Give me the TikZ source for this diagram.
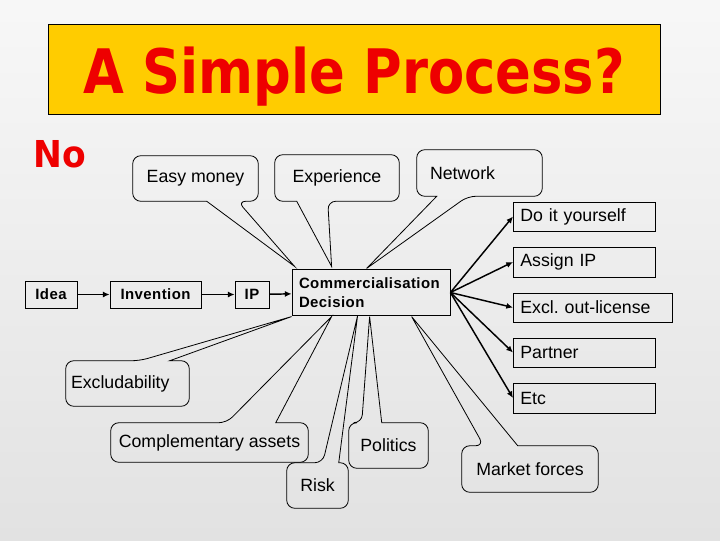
\documentclass[tikz,border=0pt]{standalone}
\usepackage{fontspec}
\setmainfont{Liberation Sans}
\newfontfamily\headfont{DejaVu Sans}
\newfontfamily\boxfont[LetterSpace=3]{Liberation Sans}
\usetikzlibrary{arrows.meta,calc}
\definecolor{slideyellow}{RGB}{255,204,0}
\definecolor{slidered}{RGB}{238,0,0}
\definecolor{slidegray}{RGB}{226,226,226}
\tikzset{
  stepbox/.style={
    draw=black,
    line width=0.6pt,
    minimum height=20.25pt,
    inner sep=0pt,
    font=\boxfont\bfseries\fontsize{11.2}{14.25}\selectfont
  },
  option/.style={
    draw=black,
    line width=0.6pt,
    anchor=west,
    inner xsep=5.25pt,
    inner ysep=0pt,
    align=left,
    font=\fontsize{13.3}{16}\selectfont
  },
  bubble/.style={
    inner sep=0pt,
    font=\fontsize{13.3}{16}\selectfont
  },
  outline/.style={draw=black, line width=0.6pt, rounded corners=6pt},
  arr/.style={-{Latex[length=5pt,width=4.5pt]}, line width=1.1pt}
}

\begin{document}
\begin{tikzpicture}[x=0.75pt, y=-0.75pt]
  \useasboundingbox (0,0) rectangle (720,540);
  \shade[top color=white!97!black, bottom color=slidegray] (0,0) rectangle (720,540);

  % heading
  \node[draw=black, line width=0.6pt, fill=slideyellow, minimum width=459pt, minimum height=67.5pt] (titlebox) at (354,69) {};
  \node[anchor=base, text=slidered, font=\headfont\bfseries\fontsize{46}{46}\selectfont] (title) at (354,93) {\scalebox{0.86}[1]{A Simple Process?}};
  \node[anchor=base west, inner sep=0pt, text=slidered, font=\headfont\bfseries\fontsize{27.8}{28}\selectfont] (no) at (33,167) {\scalebox{0.93}[1]{No}};

  % main chain
  \node[stepbox, minimum width=39pt] (idea) at (51,294.5) {Idea};
  \node[stepbox, minimum width=68.25pt] (inv) at (155.5,294.5) {Invention};
  \node[stepbox, minimum width=25.5pt] (ip) at (252,294.5) {IP};
  \node[stepbox, minimum width=118.5pt, minimum height=34pt, text width=108pt, align=left] (cd) at (371,292.5) {Commercialisation\\Decision};
  \draw[arr] (idea) -- (inv);
  \draw[arr] (inv) -- (ip);
  \draw[arr] (ip) -- (cd);

  % options
  \node[option, text width=96pt, minimum height=21.75pt] (diy) at (513,216.5) {Do it yourself};
  \node[option, text width=96pt, minimum height=22.5pt] (assign) at (513,262) {Assign IP};
  \node[option, text width=108.75pt, minimum height=21.75pt] (excl) at (513,307.5) {Excl.\ out-license};
  \node[option, text width=96pt, minimum height=21.75pt] (partner) at (513,352.5) {Partner};
  \node[option, text width=96pt, minimum height=22.5pt] (etc) at (513,398) {Etc};
  \foreach \o in {diy,assign,excl,partner,etc}
    \draw[arr] (cd.east) -- (\o.west);

  % callouts above
  \node[bubble, minimum width=93.75pt, minimum height=33.75pt] (em) at (195.5,178.5) {Easy money};
  \draw[outline] (em.north) -- (em.north east) -- (em.south east) -- ($(em.south west)+(105,0)$) [sharp corners]
    -- ($(cd.north west)+(3,-3)$) -- ($(em.south west)+(74,0)$) [rounded corners=6pt] -- (em.south west) -- (em.north west) -- (em.north);
  \node[bubble, minimum width=93pt, minimum height=34.5pt] (ex) at (337,178) {Experience};
  \draw[outline] (ex.north) -- (ex.north east) -- (ex.south east) -- ($(ex.south west)+(53,0)$) [sharp corners]
    -- ($(cd.north west)+(40,-3)$) -- ($(ex.south west)+(22,0)$) [rounded corners=6pt] -- (ex.south west) -- (ex.north west) -- (ex.north);
  \node[bubble, text width=74.25pt, inner xsep=9.75pt, align=left, minimum height=34.5pt] (nw) at (479.5,173) {Network};
  \draw[outline] (nw.north) -- (nw.north east) -- (nw.south east) -- ($(nw.south west)+(51,0)$) [sharp corners]
    -- ($(cd.north west)+(75,-1)$) -- ($(nw.south west)+(20,0)$) [rounded corners=6pt] -- (nw.south west) -- (nw.north west) -- (nw.north);

  % callouts below
  \node[bubble, text width=84.75pt, inner xsep=3.75pt, align=left, minimum height=33.75pt] (xb) at (127.5,383.5) {Excludability};
  \draw[outline] (xb.south) -- (xb.south west) -- (xb.north west) -- ($(xb.north west)+(74,0)$) [sharp corners]
    -- ($(cd.south west)+(0,1)$) -- ($(xb.north west)+(104,0)$) [rounded corners=6pt] -- (xb.north east) -- (xb.south east) -- (xb.south);
  \node[bubble, minimum width=147.75pt, minimum height=29.25pt] (ca) at (209.5,442.5) {Complementary assets};
  \draw[outline] (ca.south) -- (ca.south west) -- (ca.north west) -- ($(ca.north west)+(116,0)$) [sharp corners]
    -- ($(cd.south west)+(40,1)$) -- ($(ca.north west)+(165,0)$) [rounded corners=6pt] -- (ca.north east) -- (ca.south east) -- (ca.south);
  \node[bubble, minimum width=45.75pt, minimum height=33.75pt] (rk) at (317.5,485.5) {Risk};
  \draw[outline] (rk.south) -- (rk.south west) -- (rk.north west) -- ($(rk.north west)+(36,0)$) [sharp corners]
    -- ($(cd.south west)+(66,0)$) -- ($(rk.north west)+(52,0)$) [rounded corners=6pt] -- (rk.north east) -- (rk.south east) -- (rk.south);
  \node[bubble, minimum width=59.25pt, minimum height=33.75pt] (po) at (388.5,445.5) {Politics};
  \draw[outline] (po.south) -- (po.south west) -- (po.north west) -- ($(po.north west)+(13,0)$) [sharp corners]
    -- ($(cd.south west)+(78,1)$) -- ($(po.north west)+(33,0)$) [rounded corners=6pt] -- (po.north east) -- (po.south east) -- (po.south);
  \node[bubble, minimum width=102pt, minimum height=34.5pt] (mf) at (530,469) {Market forces};
  \draw[outline] (mf.south) -- (mf.south west) -- (mf.north west) -- ($(mf.north west)+(22,0)$) [sharp corners]
    -- ($(cd.south west)+(120,1)$) -- ($(mf.north west)+(56,0)$) [rounded corners=6pt] -- (mf.north east) -- (mf.south east) -- (mf.south);
\end{tikzpicture}
\end{document}
